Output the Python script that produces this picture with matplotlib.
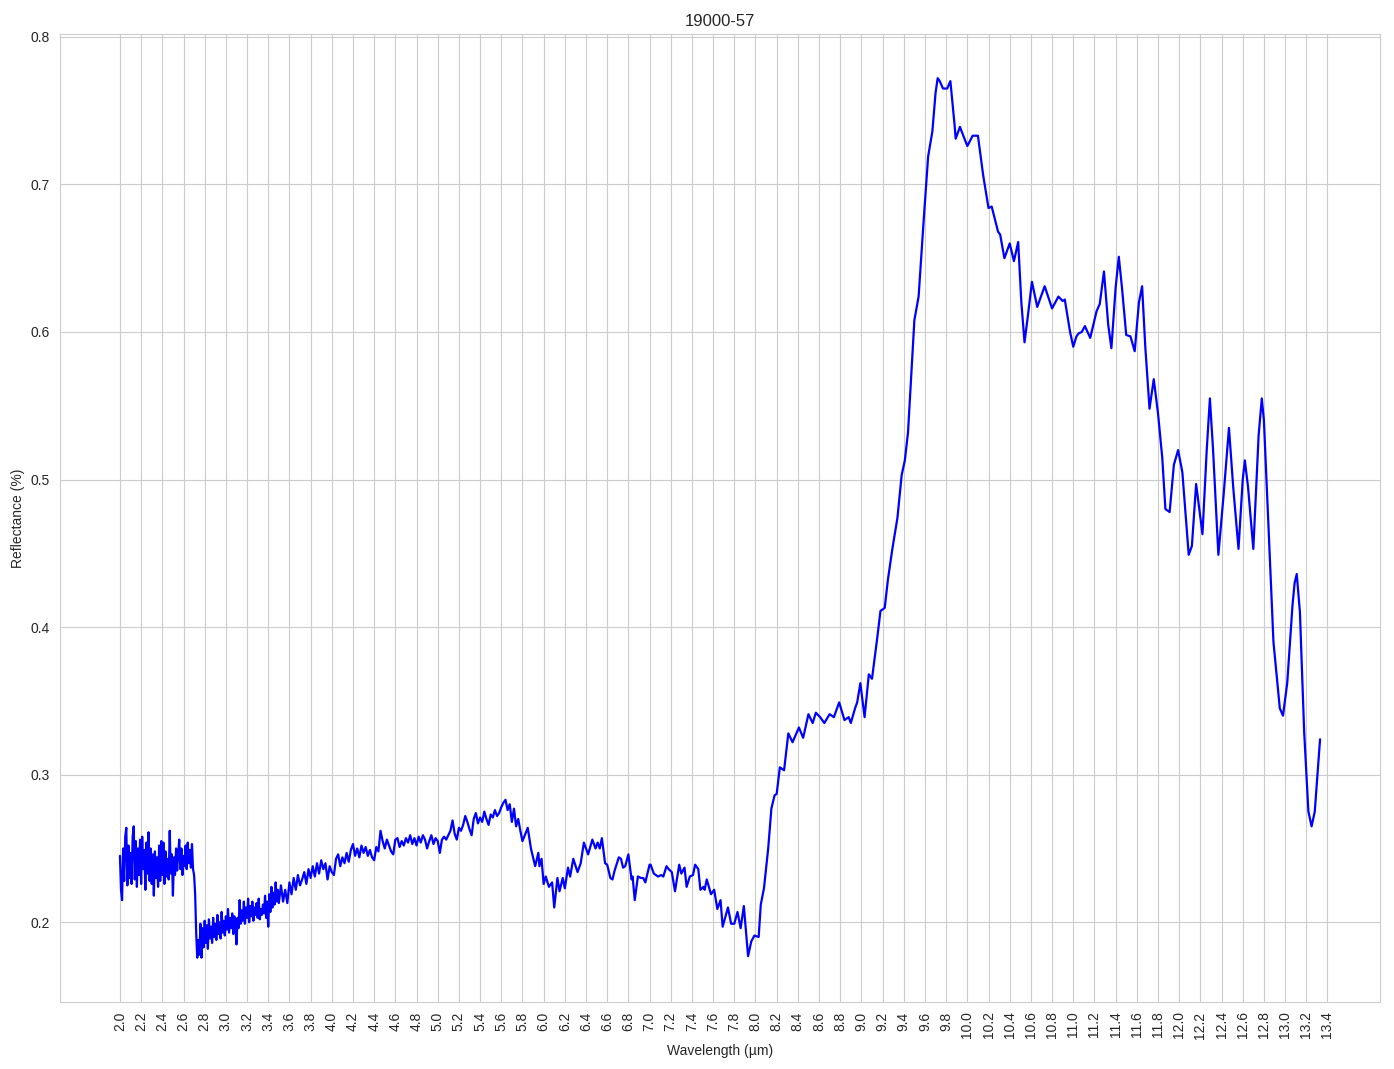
import numpy as np
import matplotlib
matplotlib.use("Agg")
import matplotlib.pyplot as plt
import seaborn as sns

# Spectrum of sample 19000-57

# noisy start, 2.00 - 2.70 um
wl_start = [2.00, 2.01, 2.02, 2.03, 2.04, 2.05, 2.06, 2.07, 2.08, 2.09,
            2.10, 2.11, 2.12, 2.13, 2.14, 2.15, 2.16, 2.17, 2.18, 2.19,
            2.20, 2.21, 2.22, 2.23, 2.24, 2.25, 2.26, 2.27, 2.28, 2.29,
            2.30, 2.31, 2.32, 2.33, 2.34, 2.35, 2.36, 2.37, 2.38, 2.39,
            2.40, 2.41, 2.42, 2.43, 2.44, 2.45, 2.46, 2.47, 2.48, 2.49,
            2.50, 2.51, 2.52, 2.53, 2.54, 2.55, 2.56, 2.57, 2.58, 2.59,
            2.60, 2.61, 2.62, 2.63, 2.64, 2.65, 2.66, 2.67, 2.68, 2.69, 2.70]
refl_start = [0.245, 0.222, 0.215, 0.250, 0.228, 0.258, 0.264, 0.225, 0.252, 0.230,
              0.247, 0.226, 0.258, 0.265, 0.229, 0.255, 0.224, 0.250, 0.232, 0.256,
              0.226, 0.258, 0.236, 0.249, 0.222, 0.254, 0.233, 0.261, 0.228, 0.250,
              0.226, 0.246, 0.218, 0.248, 0.230, 0.244, 0.224, 0.252, 0.228, 0.255,
              0.232, 0.254, 0.226, 0.248, 0.231, 0.243, 0.229, 0.262, 0.233, 0.246,
              0.218, 0.244, 0.232, 0.250, 0.235, 0.247, 0.256, 0.236, 0.250, 0.232,
              0.245, 0.238, 0.252, 0.236, 0.254, 0.240, 0.249, 0.237, 0.253, 0.236, 0.232]

# drop and low noisy band, 2.71 - 3.50 um
wl_low = [2.71, 2.72, 2.73, 2.74, 2.75, 2.76, 2.77, 2.78, 2.79, 2.80,
          2.81, 2.82, 2.83, 2.84, 2.85, 2.86, 2.87, 2.88, 2.89, 2.90,
          2.91, 2.92, 2.93, 2.94, 2.95, 2.96, 2.97, 2.98, 2.99, 3.00,
          3.01, 3.02, 3.03, 3.04, 3.05, 3.06, 3.07, 3.08, 3.09, 3.10,
          3.11, 3.12, 3.13, 3.14, 3.15, 3.16, 3.17, 3.18, 3.19, 3.20,
          3.21, 3.22, 3.23, 3.24, 3.25, 3.26, 3.27, 3.28, 3.29, 3.30,
          3.31, 3.32, 3.33, 3.34, 3.35, 3.36, 3.37, 3.38, 3.39, 3.40,
          3.41, 3.42, 3.43, 3.44, 3.45, 3.46, 3.47, 3.48, 3.49, 3.50]
refl_low = [0.219, 0.192, 0.176, 0.188, 0.178, 0.199, 0.176, 0.196, 0.183, 0.201,
            0.186, 0.198, 0.182, 0.202, 0.189, 0.197, 0.186, 0.203, 0.190, 0.199,
            0.188, 0.205, 0.192, 0.200, 0.189, 0.207, 0.193, 0.201, 0.191, 0.204,
            0.195, 0.209, 0.193, 0.203, 0.196, 0.206, 0.192, 0.204, 0.197, 0.185,
            0.203, 0.196, 0.215, 0.199, 0.208, 0.201, 0.214, 0.199, 0.210, 0.203,
            0.216, 0.200, 0.211, 0.204, 0.214, 0.201, 0.210, 0.205, 0.213, 0.203,
            0.216, 0.202, 0.209, 0.205, 0.212, 0.206, 0.218, 0.203, 0.214, 0.197,
            0.219, 0.207, 0.224, 0.210, 0.220, 0.212, 0.227, 0.214, 0.222, 0.213]

# slow rise, 3.52 - 5.80 um
wl_rise = [3.52, 3.54, 3.56, 3.58, 3.60, 3.62, 3.64, 3.66, 3.68, 3.70,
           3.72, 3.74, 3.76, 3.78, 3.80, 3.82, 3.84, 3.86, 3.88, 3.90,
           3.92, 3.94, 3.96, 3.98, 4.00, 4.02, 4.04, 4.06, 4.08, 4.10,
           4.12, 4.14, 4.16, 4.18, 4.20, 4.22, 4.24, 4.26, 4.28, 4.30,
           4.32, 4.34, 4.36, 4.38, 4.40, 4.42, 4.44, 4.46, 4.48, 4.50,
           4.52, 4.54, 4.56, 4.58, 4.60, 4.62, 4.64, 4.66, 4.68, 4.70,
           4.72, 4.74, 4.76, 4.78, 4.80, 4.82, 4.84, 4.86, 4.88, 4.90,
           4.92, 4.94, 4.96, 4.98, 5.00, 5.02, 5.04, 5.06, 5.08, 5.10,
           5.12, 5.14, 5.16, 5.18, 5.20, 5.22, 5.24, 5.26, 5.28, 5.30,
           5.32, 5.34, 5.36, 5.38, 5.40, 5.42, 5.44, 5.46, 5.48, 5.50,
           5.52, 5.54, 5.56, 5.58, 5.60, 5.62, 5.64, 5.66, 5.68, 5.70,
           5.72, 5.74, 5.76, 5.78, 5.80]
refl_rise = [0.225, 0.214, 0.222, 0.213, 0.227, 0.219, 0.230, 0.222, 0.232, 0.225,
             0.229, 0.234, 0.226, 0.236, 0.230, 0.238, 0.231, 0.240, 0.233, 0.242,
             0.236, 0.240, 0.229, 0.238, 0.234, 0.232, 0.243, 0.246, 0.238, 0.244,
             0.240, 0.247, 0.241, 0.249, 0.253, 0.245, 0.250, 0.244, 0.252, 0.247,
             0.251, 0.245, 0.249, 0.244, 0.242, 0.251, 0.248, 0.262, 0.255, 0.250,
             0.256, 0.252, 0.248, 0.246, 0.256, 0.257, 0.251, 0.255, 0.252, 0.257,
             0.254, 0.259, 0.253, 0.257, 0.252, 0.258, 0.254, 0.259, 0.256, 0.250,
             0.255, 0.259, 0.253, 0.257, 0.255, 0.247, 0.256, 0.258, 0.256, 0.259,
             0.262, 0.269, 0.260, 0.256, 0.264, 0.262, 0.266, 0.272, 0.268, 0.263,
             0.259, 0.270, 0.274, 0.267, 0.271, 0.268, 0.275, 0.270, 0.266, 0.273,
             0.271, 0.276, 0.272, 0.274, 0.278, 0.281, 0.283, 0.276, 0.280, 0.268,
             0.277, 0.265, 0.270, 0.262, 0.255]

# smoother part, 5.85 - 13.33 um
wl_smooth = [5.85, 5.88, 5.92, 5.95, 5.96, 5.98, 6.00, 6.02, 6.05, 6.08,
             6.10, 6.13, 6.15, 6.18, 6.20, 6.23, 6.25, 6.28, 6.32, 6.35,
             6.38, 6.42, 6.46, 6.49, 6.51, 6.53, 6.55, 6.58, 6.60, 6.63,
             6.65, 6.67, 6.71, 6.73, 6.75, 6.77, 6.80, 6.83, 6.84, 6.86,
             6.89, 6.92, 6.94, 6.96, 7.00, 7.01, 7.04, 7.08, 7.11, 7.13,
             7.16, 7.18, 7.21, 7.24, 7.28, 7.30, 7.33, 7.35, 7.38, 7.41,
             7.43, 7.46, 7.48, 7.51, 7.52, 7.54, 7.58, 7.61, 7.64, 7.67,
             7.69, 7.74, 7.77, 7.80, 7.83, 7.86, 7.89, 7.93, 7.96, 7.99,
             8.03, 8.05, 8.08, 8.12, 8.15, 8.18, 8.20, 8.23, 8.27, 8.31,
             8.35, 8.41, 8.45, 8.50, 8.54, 8.57, 8.61, 8.65, 8.70, 8.74,
             8.79, 8.84, 8.88, 8.90, 8.94, 8.96, 8.99, 9.03, 9.07, 9.10,
             9.15, 9.18, 9.22, 9.25, 9.29, 9.34, 9.38, 9.41, 9.44, 9.50,
             9.54, 9.59, 9.63, 9.67, 9.70, 9.72, 9.74, 9.77, 9.81, 9.84,
             9.88, 9.89, 9.93, 10.00, 10.05, 10.07, 10.10, 10.15, 10.20, 10.23,
             10.29, 10.31, 10.35, 10.40, 10.44, 10.48, 10.51, 10.54, 10.57, 10.61,
             10.66, 10.73, 10.80, 10.86, 10.90, 10.92, 10.97, 11.00, 11.03, 11.05,
             11.08, 11.11, 11.16, 11.22, 11.25, 11.29, 11.33, 11.36, 11.40, 11.43,
             11.46, 11.50, 11.54, 11.58, 11.62, 11.65, 11.68, 11.72, 11.76, 11.80,
             11.84, 11.87, 11.91, 11.95, 11.99, 12.03, 12.09, 12.12, 12.16, 12.22,
             12.26, 12.29, 12.32, 12.37, 12.42, 12.47, 12.51, 12.56, 12.60, 12.62,
             12.65, 12.70, 12.75, 12.78, 12.80, 12.83, 12.89, 12.95, 12.98, 13.02,
             13.07, 13.09, 13.11, 13.14, 13.18, 13.22, 13.25, 13.28, 13.33]
refl_smooth = [0.264, 0.250, 0.238, 0.247, 0.238, 0.243, 0.226, 0.231, 0.224, 0.227,
               0.210, 0.230, 0.221, 0.230, 0.223, 0.237, 0.231, 0.243, 0.234, 0.240,
               0.254, 0.246, 0.256, 0.250, 0.254, 0.250, 0.257, 0.240, 0.239, 0.230,
               0.229, 0.235, 0.244, 0.243, 0.237, 0.238, 0.246, 0.229, 0.231, 0.215,
               0.231, 0.230, 0.230, 0.227, 0.239, 0.239, 0.233, 0.231, 0.232, 0.231,
               0.238, 0.236, 0.234, 0.221, 0.239, 0.233, 0.237, 0.224, 0.231, 0.232,
               0.239, 0.236, 0.222, 0.224, 0.222, 0.229, 0.219, 0.222, 0.209, 0.215,
               0.197, 0.210, 0.199, 0.199, 0.207, 0.196, 0.211, 0.177, 0.187, 0.191,
               0.190, 0.212, 0.223, 0.250, 0.277, 0.286, 0.287, 0.305, 0.303, 0.328,
               0.322, 0.332, 0.325, 0.341, 0.335, 0.342, 0.339, 0.335, 0.341, 0.339,
               0.349, 0.337, 0.339, 0.335, 0.345, 0.349, 0.362, 0.339, 0.368, 0.365,
               0.393, 0.411, 0.413, 0.432, 0.452, 0.474, 0.503, 0.513, 0.532, 0.608,
               0.624, 0.678, 0.719, 0.736, 0.762, 0.772, 0.770, 0.765, 0.765, 0.770,
               0.740, 0.731, 0.739, 0.726, 0.733, 0.733, 0.733, 0.706, 0.684, 0.685,
               0.668, 0.666, 0.650, 0.660, 0.648, 0.661, 0.620, 0.593, 0.610, 0.634,
               0.617, 0.631, 0.616, 0.624, 0.621, 0.622, 0.600, 0.590, 0.597, 0.599,
               0.600, 0.604, 0.596, 0.614, 0.619, 0.641, 0.605, 0.589, 0.630, 0.651,
               0.630, 0.598, 0.597, 0.587, 0.620, 0.631, 0.590, 0.548, 0.568, 0.545,
               0.515, 0.480, 0.478, 0.510, 0.520, 0.505, 0.449, 0.455, 0.497, 0.463,
               0.520, 0.555, 0.520, 0.449, 0.490, 0.535, 0.495, 0.453, 0.500, 0.513,
               0.495, 0.453, 0.530, 0.555, 0.540, 0.490, 0.390, 0.345, 0.340, 0.362,
               0.415, 0.430, 0.436, 0.410, 0.329, 0.275, 0.265, 0.275, 0.324]

wavelength = np.array(wl_start + wl_low + wl_rise + wl_smooth)
reflectance = np.array(refl_start + refl_low + refl_rise + refl_smooth)

tick_labels = ["%.1f" % (2.0 + 0.2 * i) for i in range(58)]
tick_pos = [float(t) for t in tick_labels]

sns.set_style("whitegrid")
plt.rcParams["font.family"] = ["Liberation Sans", "DejaVu Sans"]

fig, ax = plt.subplots(figsize=(13.94, 10.69), dpi=100)
ax.plot(wavelength, reflectance, color="blue", linewidth=1.6)

ax.set_xticks(tick_pos)
ax.set_xticklabels(tick_labels, rotation=90)
ax.set_xlabel("Wavelength (\u00b5m)")
ax.set_ylabel("Reflectance (%)")
ax.set_title("19000-57")

fig.subplots_adjust(left=0.043, right=0.990, top=0.968, bottom=0.063)
fig.savefig("out.png", dpi=100)
